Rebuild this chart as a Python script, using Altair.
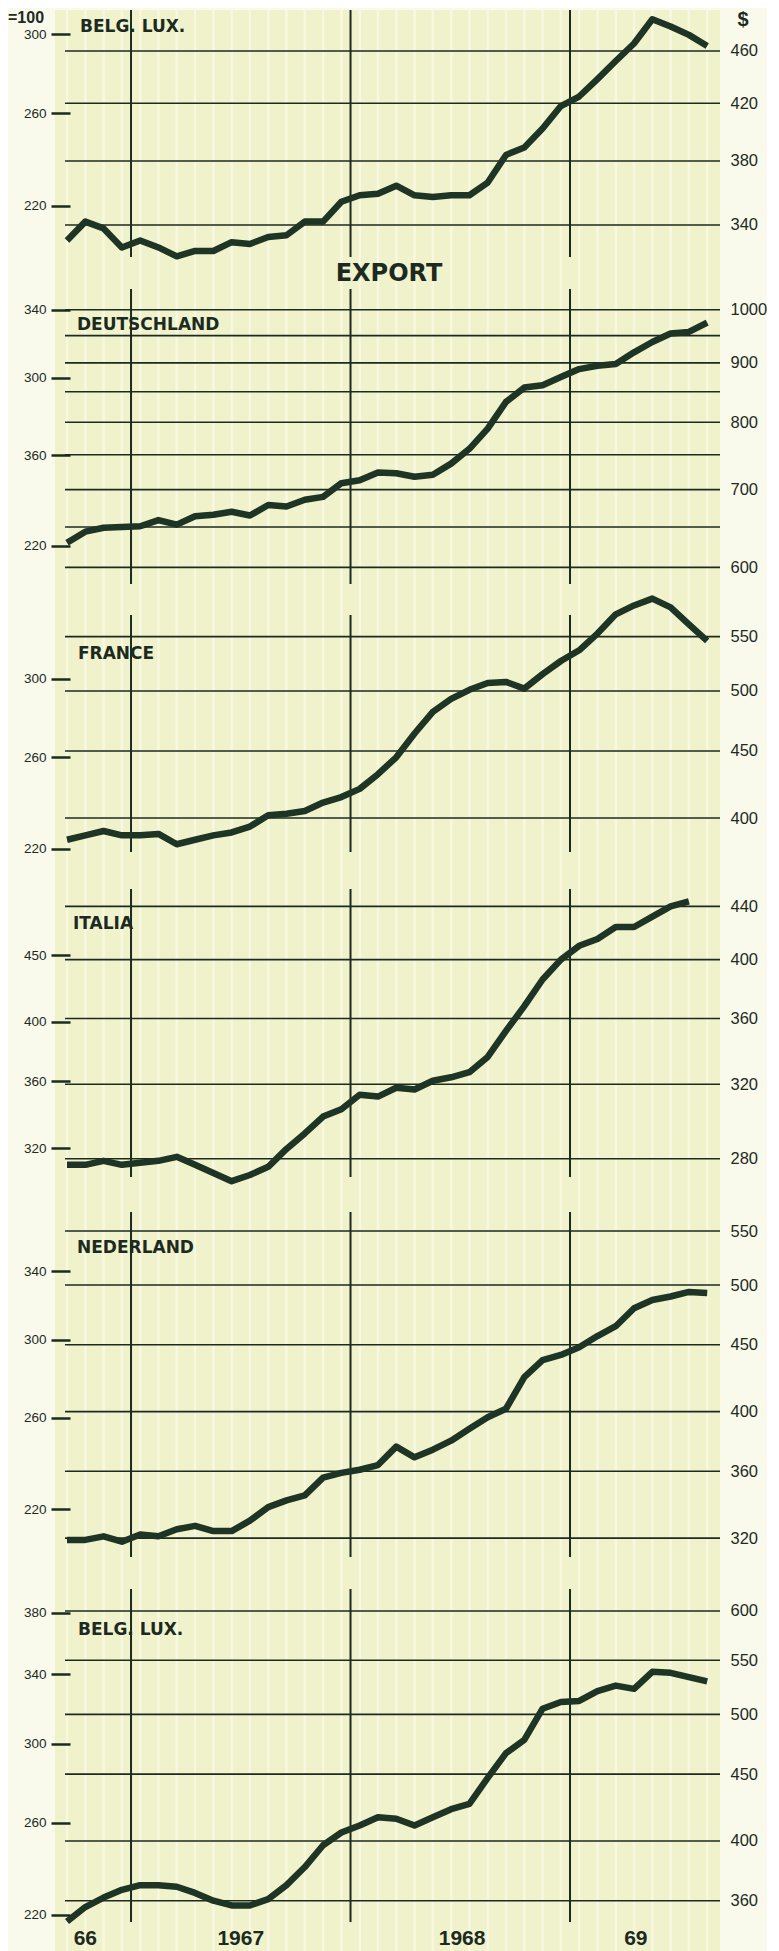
import altair as alt
import pandas as pd

# ---------------- data ----------------
MONTHS = ['1966-09', '1966-10', '1966-11', '1966-12',
          '1967-01', '1967-02', '1967-03', '1967-04', '1967-05', '1967-06',
          '1967-07', '1967-08', '1967-09', '1967-10', '1967-11', '1967-12',
          '1968-01', '1968-02', '1968-03', '1968-04', '1968-05', '1968-06',
          '1968-07', '1968-08', '1968-09', '1968-10', '1968-11', '1968-12',
          '1969-01', '1969-02', '1969-03', '1969-04', '1969-05', '1969-06',
          '1969-07', '1969-08']

BELG_LUX_TOP = [331, 342, 338, 327, 331, 327, 322, 325, 325, 330, 329, 333, 334, 342, 342, 354, 358, 359,
                364, 358, 357, 358, 358, 366, 384, 389, 402, 418, 425, 438, 452, 466, 486, 480, 473, 464]
DEUTSCHLAND = [630, 644, 649, 650, 651, 659, 653, 664, 666, 670, 665, 679, 677, 686, 690, 709, 713, 724,
               723, 718, 721, 737, 759, 790, 833, 857, 861, 875, 889, 895, 898, 919, 938, 954, 957, 975]
FRANCE = [385, 388, 391, 388, 388, 389, 382, 385, 388, 390, 394, 402, 403, 405, 411, 415, 421, 432,
          445, 464, 482, 493, 501, 507, 508, 502, 515, 527, 537, 553, 572, 581, 588, 579, 562, 546]
ITALIA = [277, 277, 279, 277, 278, 279, 281, 277, 273, 269, 272, 276, 285, 293, 302, 306, 314, 313,
          318, 317, 322, 324, 327, 336, 352, 368, 386, 400, 410, 415, 424, 424, 432, 440, 444, None]
NEDERLAND = [319, 319, 321, 318, 322, 321, 325, 327, 324, 324, 330, 338, 342, 345, 356, 359, 361, 364,
             376, 369, 374, 380, 388, 396, 402, 425, 438, 442, 448, 457, 465, 480, 487, 490, 494, 493]
BELG_LUX_BOTTOM = [347, 356, 362, 367, 370, 370, 369, 365, 360, 357, 357, 361, 370, 382, 397, 406, 411, 417,
                   416, 411, 417, 423, 427, 447, 467, 478, 505, 511, 512, 521, 526, 523, 539, 538, 534, 530]

PANEL_NAMES = ['BELG. LUX.', 'DEUTSCHLAND', 'FRANCE', 'ITALIA', 'NEDERLAND', 'BELG. LUX.']

# right ($) axis labels and gridlines
USD_TICKS = [[460, 420, 380, 340],
             [1000, 900, 800, 700, 600],
             [550, 500, 450, 400],
             [440, 400, 360, 320, 280],
             [550, 500, 450, 400, 360, 320],
             [600, 550, 500, 450, 400, 360]]
USD_GRID = [[460, 420, 380, 340],
            [1000, 950, 900, 850, 800, 750, 700, 650, 600],
            [550, 500, 450, 400],
            [440, 400, 360, 320, 280],
            [550, 500, 450, 400, 360, 320],
            [600, 550, 500, 450, 400, 360]]
# left (index) axis ticks and their printed labels
IDX_TICKS = [[300, 260, 220],
             [340, 300, 260, 220],
             [300, 260, 220],
             [450, 400, 360, 320],
             [340, 300, 260, 220],
             [380, 340, 300, 260, 220]]
IDX_LABELS = [['300', '260', '220'],
              ['340', '300', '360', '220'],
              ['300', '260', '220'],
              ['450', '400', '360', '320'],
              ['340', '300', '260', '220'],
              ['380', '340', '300', '260', '220']]

YEAR_STARTS = [1967, 1968, 1969]
X_LABELS = ['66', '1967', '1968', '69']
X_LABEL_POS = [9.5, 18.0, 30.1, 39.6]   # in months since Jan 1966

SERIES = [BELG_LUX_TOP, DEUTSCHLAND, FRANCE, ITALIA, NEDERLAND, BELG_LUX_BOTTOM]

# ---------------- layout / style ----------------
W = 655
HEIGHTS = [263, 326, 271, 324, 379, 380]
USD_DOM = [[312.8, 493.9], [563.5, 1075.6], [365.1, 587.6], [262.9, 469.6], [300.9, 587.1], [328.3, 641.5]]
IDX_DOM = [[194.9, 313.3], [199.5, 363.7], [211.6, 346.9], [295.1, 522.9], [195.8, 391.6], [205.3, 408.5]]
YEAR_LINE_SPAN = [[0, 247], [16, 311], [16, 253], [19, 307], [18, 363], [16, 349]]
NAME_POS = [[15, 17], [12, 52], [13, 55], [8, 54], [12, 54], [13, 57]]
X_DOMAIN = [8.39, 44.2]

CREAM = '#F0F2CB'
STRIPE = '#FBFCEC'
PAGE = '#FAFAEC'
INK = '#1C2A1F'
LINE = '#1E3525'
AXIS_FONT = 'Liberation Sans'
TITLE_FONT = 'DejaVu Sans'


def month_pos(s):
    y, m = s.split('-')
    return (int(y) - 1966) * 12 + (int(m) - 1) + 0.5


T = [month_pos(s) for s in MONTHS]
YEAR_T = [(y - 1966) * 12 for y in YEAR_STARTS]

x_enc = alt.X('t:Q', scale=alt.Scale(domain=X_DOMAIN, nice=False, zero=False), axis=None)
one_row = pd.DataFrame({'a': [0]})


def label_expr(ticks, labels):
    expr = 'datum.label'
    for v, lab in reversed(list(zip(ticks, labels))):
        expr = f"abs(datum.value - {v}) < 0.5 ? '{lab}' : " + expr
    return expr


def make_panel(i):
    H = HEIGHTS[i]
    df = pd.DataFrame({'t': T, 'usd': SERIES[i]}).dropna()

    bg = alt.Chart(one_row).mark_rect(color=CREAM).encode(
        x=alt.value(-10), x2=alt.value(W), y=alt.value(0), y2=alt.value(H))
    stripes = alt.Chart(pd.DataFrame({'t': T})).mark_rule(
        color=STRIPE, strokeWidth=2.5, opacity=0.6).encode(x=x_enc)
    years = alt.Chart(pd.DataFrame({'t': YEAR_T})).mark_rule(
        color=INK, strokeWidth=2).encode(
        x=x_enc, y=alt.value(YEAR_LINE_SPAN[i][0]), y2=alt.value(YEAR_LINE_SPAN[i][1]))

    idx_scale = alt.Scale(type='log', domain=IDX_DOM[i], nice=False)
    left = alt.Chart(pd.DataFrame({'idx': IDX_TICKS[i]})).mark_point(opacity=0).encode(
        y=alt.Y('idx:Q', scale=idx_scale,
                axis=alt.Axis(orient='left', values=IDX_TICKS[i], format='d',
                              labelExpr=label_expr(IDX_TICKS[i], IDX_LABELS[i]),
                              tickSize=19, tickWidth=2.5, tickColor=INK, offset=-5,
                              domain=False, grid=False, labelFontSize=13.5,
                              labelFont=AXIS_FONT, labelColor=INK, labelPadding=5,
                              labelOverlap=False, zindex=1, title=None)))

    usd_scale = alt.Scale(type='log', domain=USD_DOM[i], nice=False)
    usd_axis = alt.Axis(orient='right', values=USD_TICKS[i], format='d', ticks=False, tickSize=0,
                        domain=False, grid=False, labelFontSize=16.5, labelFont=AXIS_FONT,
                        labelColor=INK, labelPadding=10, labelOverlap=False, title=None)
    grid = alt.Chart(pd.DataFrame({'usd': USD_GRID[i]})).mark_rule(
        color=INK, strokeWidth=1.6).encode(y=alt.Y('usd:Q', scale=usd_scale, axis=usd_axis))
    line = alt.Chart(df).mark_line(color=LINE, strokeWidth=6.5, strokeJoin='round').encode(
        x=x_enc, y=alt.Y('usd:Q', scale=usd_scale, axis=usd_axis))
    usd_layer = alt.layer(grid, line)

    name = alt.Chart(pd.DataFrame({'name': [PANEL_NAMES[i]]})).mark_text(
        align='left', baseline='middle', font=TITLE_FONT, fontWeight='bold',
        fontSize=17, color=INK).encode(
        text='name:N', x=alt.value(NAME_POS[i][0]), y=alt.value(NAME_POS[i][1]))

    layers = [bg, stripes, years, left, usd_layer, name]

    if i == 0:
        base100 = alt.Chart(pd.DataFrame({'s': ['=100']})).mark_text(
            align='left', baseline='top', font=AXIS_FONT, fontWeight='bold',
            fontSize=16, color=INK).encode(text='s:N', x=alt.value(-57), y=alt.value(0))
        dollar = alt.Chart(pd.DataFrame({'s': ['$']})).mark_text(
            align='center', baseline='top', font=AXIS_FONT, fontWeight='bold',
            fontSize=20, color=INK).encode(text='s:N', x=alt.value(W + 23), y=alt.value(0))
        layers += [base100, dollar]
    if i == 1:
        export = alt.Chart(pd.DataFrame({'s': ['EXPORT']})).mark_text(
            align='center', baseline='middle', font=TITLE_FONT, fontWeight='bold',
            fontSize=24, color=INK).encode(
            text='s:N', x=alt.value(324), y=alt.value(1))
        layers += [export]
    if i == 5:
        xl = alt.Chart(pd.DataFrame({'t': X_LABEL_POS, 'lab': X_LABELS})).mark_text(
            align='center', baseline='middle', font=AXIS_FONT, fontWeight='bold',
            fontSize=21, color=INK).encode(x=x_enc, y=alt.value(366), text='lab:N')
        layers += [xl]

    return alt.layer(*layers).resolve_scale(y='independent').properties(width=W, height=H)


panels = [make_panel(i) for i in range(6)]

chart = alt.vconcat(*panels, spacing=0, bounds='flush', padding=0,
                    background=PAGE).configure_view(strokeWidth=0)

chart.save("out.html", embed_options={"renderer": "svg", "actions": False})
